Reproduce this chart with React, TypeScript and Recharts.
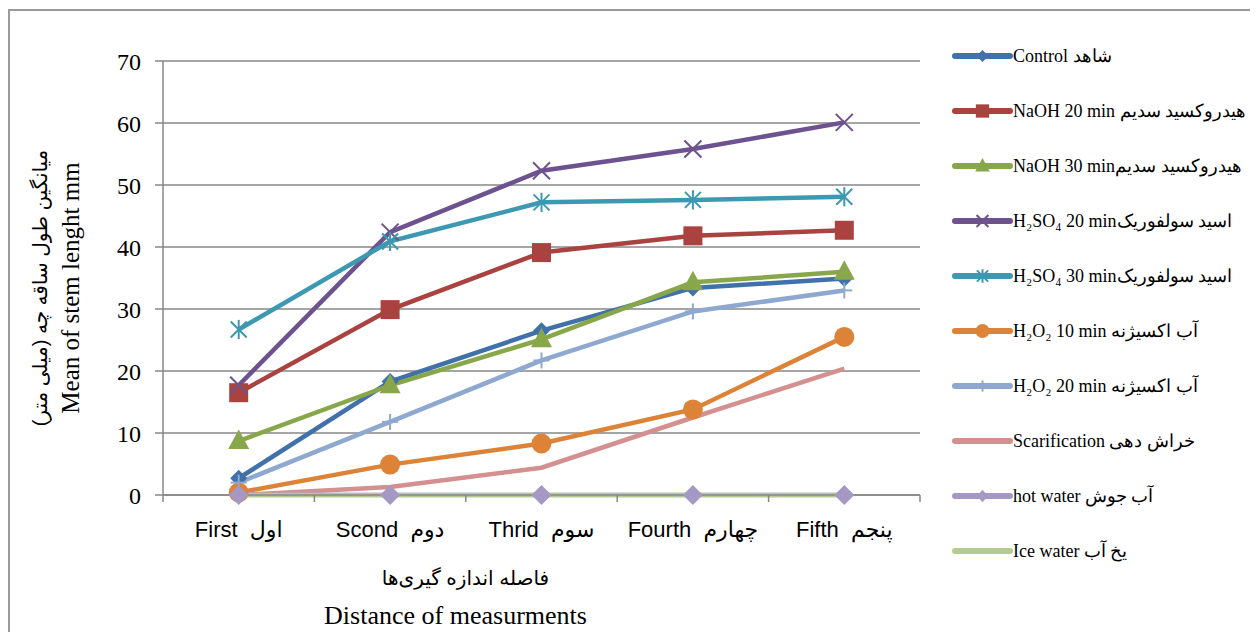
import { LineChart, Line, XAxis, YAxis, CartesianGrid } from "recharts";

const categories = ["First", "Scond", "Thrid", "Fourth", "Fifth"];
const categoriesFa = ["اول", "دوم", "سوم", "چهارم", "پنجم"];
const yTicks = [0, 10, 20, 30, 40, 50, 60, 70];

const control = [2.7, 18.3, 26.5, 33.4, 34.9];
const naoh20 = [16.5, 29.9, 39.1, 41.8, 42.7];
const naoh30 = [8.7, 17.7, 25.1, 34.3, 36.0];
const h2so420 = [17.7, 42.4, 52.3, 55.8, 60.1];
const h2so430 = [26.7, 40.9, 47.2, 47.6, 48.1];
const h2o210 = [0.4, 4.9, 8.3, 13.8, 25.5];
const h2o220 = [2.0, 11.8, 21.7, 29.6, 33.0];
const scarification = [0, 1.3, 4.4, 12.5, 20.4];
const hotWater = [0, 0, 0, 0, 0];
const iceWater = [0, 0, 0, 0, 0];

const CHART_W = 1250;
const CHART_H = 624;
const PLOT_W = 757;
const HALF_BAND = PLOT_W / 10;
const GRID = "#878787";
const SERIF = "'Liberation Serif', 'DejaVu Serif', serif";
const SANS = "'Liberation Sans', 'DejaVu Sans', sans-serif";

type Marker = "diamond" | "bigdiamond" | "square" | "triangle" | "x" | "star" | "circle" | "plus" | "none";

const series = [
  { key: "control", name: "Control شاهد", color: "#4171aa", values: control, marker: "diamond" as Marker },
  { key: "naoh20", name: "NaOH 20 min هیدروکسید سدیم", color: "#aa4240", values: naoh20, marker: "square" as Marker },
  { key: "naoh30", name: "NaOH 30 minهیدروکسید سدیم", color: "#88a74a", values: naoh30, marker: "triangle" as Marker },
  { key: "h2so420", name: "H₂SO₄ 20 minاسید سولفوریک", color: "#6d528f", values: h2so420, marker: "x" as Marker },
  { key: "h2so430", name: "H₂SO₄ 30 minاسید سولفوریک", color: "#3d98b1", values: h2so430, marker: "star" as Marker },
  { key: "h2o210", name: "H₂O₂ 10 min آب اکسیژنه", color: "#dd8337", values: h2o210, marker: "circle" as Marker },
  { key: "h2o220", name: "H₂O₂ 20 min آب اکسیژنه", color: "#8ea8cf", values: h2o220, marker: "plus" as Marker },
  { key: "scar", name: "Scarification خراش دهی", color: "#d48f8f", values: scarification, marker: "none" as Marker },
  { key: "hot", name: "hot water آب جوش", color: "#a698c4", values: hotWater, marker: "bigdiamond" as Marker },
  { key: "ice", name: "Ice water یخ آب", color: "#b4cc92", values: iceWater, marker: "none" as Marker },
];

const data = categories.map((cat, i) => {
  const row: any = { cat };
  series.forEach((s) => {
    row[s.key] = s.values[i];
  });
  return row;
});

function markerShape(marker: Marker, color: string, cx: number, cy: number, k = 1, key?: any) {
  switch (marker) {
    case "diamond":
    case "bigdiamond": {
      const r = (marker === "bigdiamond" ? 10 : 8.5) * k;
      return <path key={key} d={`M${cx},${cy - r}L${cx + r},${cy}L${cx},${cy + r}L${cx - r},${cy}Z`} fill={color} />;
    }
    case "square": {
      const r = 9.5 * k;
      return <rect key={key} x={cx - r} y={cy - r} width={2 * r} height={2 * r} fill={color} />;
    }
    case "triangle": {
      const r = 10.5 * k;
      return <path key={key} d={`M${cx},${cy - r * 1.1}L${cx + r},${cy + r * 0.75}L${cx - r},${cy + r * 0.75}Z`} fill={color} />;
    }
    case "x": {
      const r = 8.5 * k;
      return (
        <g key={key} stroke={color} strokeWidth={2}>
          <line x1={cx - r} y1={cy - r} x2={cx + r} y2={cy + r} />
          <line x1={cx - r} y1={cy + r} x2={cx + r} y2={cy - r} />
        </g>
      );
    }
    case "star": {
      const r = 8 * k;
      return (
        <g key={key} stroke={color} strokeWidth={2}>
          <line x1={cx - r} y1={cy - r} x2={cx + r} y2={cy + r} />
          <line x1={cx - r} y1={cy + r} x2={cx + r} y2={cy - r} />
          <line x1={cx} y1={cy - r * 1.2} x2={cx} y2={cy + r * 1.2} />
        </g>
      );
    }
    case "circle":
      return <circle key={key} cx={cx} cy={cy} r={10 * k} fill={color} />;
    case "plus": {
      const r = 8 * k;
      return (
        <g key={key} stroke={color} strokeWidth={2}>
          <line x1={cx} y1={cy - r} x2={cx} y2={cy + r} />
          <line x1={cx - r} y1={cy} x2={cx + r} y2={cy} />
        </g>
      );
    }
    default:
      return null;
  }
}

const makeDot = (marker: Marker, color: string) => (props: any) => {
  const { cx, cy, index } = props;
  if (cx == null || cy == null) return <g key={index} />;
  return markerShape(marker, color, cx, cy, 1, index) || <g key={index} />;
};

const CategoryTick = (props: any) => {
  const { x, y, payload, index } = props;
  const axisY = y - 26;
  return (
    <g>
      <line x1={x + HALF_BAND} y1={axisY} x2={x + HALF_BAND} y2={axisY + 7} stroke={GRID} strokeWidth={1.5} />
      {index === 0 && (
        <line x1={x - HALF_BAND} y1={axisY} x2={x - HALF_BAND} y2={axisY + 7} stroke={GRID} strokeWidth={1.5} />
      )}
      <text x={x} y={y} dy="0.71em" textAnchor="middle" fontFamily={SANS} fontSize={22} fill="#000">
        {`${payload.value}\u00A0\u00A0${categoriesFa[index]}`}
      </text>
    </g>
  );
};

const XTitle = (props: any) => {
  const { x, y, width } = props.viewBox;
  const cx = x + width / 2;
  return (
    <g>
      <text x={cx - 76} y={y + 83} textAnchor="middle" dominantBaseline="central" fontFamily={SANS} fontSize={20} fill="#000" style={{ direction: "rtl" }}>
        فاصله اندازه گیری‌ها
      </text>
      <text x={cx - 86} y={y + 120} textAnchor="middle" dominantBaseline="central" fontFamily={SERIF} fontSize={26} fill="#000">
        Distance of measurments
      </text>
    </g>
  );
};

const YTitle = (props: any) => {
  const { y, height } = props.viewBox;
  const cy = y + height / 2 + 10;
  return (
    <g>
      <text x={32} y={cy} transform={`rotate(-90, 32, ${cy})`} textAnchor="middle" dominantBaseline="central" fontFamily={SANS} fontSize={20} fill="#000" style={{ direction: "rtl" }}>
        میانگین طول ساقه چه (میلی متر)
      </text>
      <text x={62} y={cy} transform={`rotate(-90, 62, ${cy})`} textAnchor="middle" dominantBaseline="central" fontFamily={SERIF} fontSize={25} fill="#000">
        Mean of stem lenght mm
      </text>
    </g>
  );
};

function LegendBox() {
  return (
    <div style={{ position: "absolute", left: 944, top: 0 }}>
      {series.map((s, i) => (
        <div
          key={s.key}
          style={{ position: "absolute", top: 38 + 55 * i, left: 0, height: 20, display: "flex", alignItems: "center", whiteSpace: "nowrap" }}
        >
          <svg width={61} height={20} style={{ display: "block" }}>
            <line x1={3} y1={10} x2={58} y2={10} stroke={s.color} strokeWidth={6} strokeLinecap="round" />
            {markerShape(s.marker === "bigdiamond" ? "diamond" : s.marker, s.color, 30.5, 10, 0.7)}
          </svg>
          <span style={{ fontFamily: SERIF, fontSize: 18, color: "#000", lineHeight: "20px" }}>{s.name}</span>
        </div>
      ))}
    </div>
  );
}

export default function App() {
  return (
    <div style={{ position: "relative", width: CHART_W, height: CHART_H }}>
      <div
        style={{
          position: "absolute",
          left: 0,
          top: 1,
          width: CHART_W - 2,
          height: CHART_H - 3,
          borderLeft: "2px solid #9a9a9a",
          borderTop: "2px solid #9a9a9a",
        }}
      />
      <LineChart width={CHART_W} height={CHART_H} data={data} margin={{ top: 53, right: 338, bottom: 0, left: 0 }}>
        <CartesianGrid vertical={false} stroke={GRID} strokeWidth={1.5} yAxisId="left" />
        <XAxis
          dataKey="cat"
          xAxisId="main"
          height={137}
          padding={{ left: HALF_BAND, right: HALF_BAND }}
          axisLine={{ stroke: GRID, strokeWidth: 1.5 }}
          tickLine={false}
          tickSize={7}
          tickMargin={19}
          interval={0}
          tick={<CategoryTick />}
          label={<XTitle />}
        />
        <XAxis
          dataKey="cat"
          xAxisId="top"
          orientation="top"
          height={0}
          padding={{ left: HALF_BAND, right: HALF_BAND }}
          axisLine={{ stroke: "#000", strokeWidth: 1.5 }}
          tick={false}
          tickLine={false}
        />
        <YAxis
          yAxisId="left"
          width={155}
          domain={[0, 70]}
          ticks={yTicks}
          interval={0}
          axisLine={{ stroke: GRID, strokeWidth: 1.5 }}
          tickLine={{ stroke: GRID, strokeWidth: 1.5 }}
          tickSize={8}
          tickMargin={14}
          tick={{ fontFamily: SERIF, fontSize: 24, fill: "#000" }}
          label={<YTitle />}
        />
        <YAxis
          yAxisId="right"
          orientation="right"
          width={0}
          domain={[0, 70]}
          axisLine={{ stroke: "#000", strokeWidth: 1.5 }}
          tick={false}
          tickLine={false}
        />
        {series.map((s) => (
          <Line
            key={s.key}
            xAxisId="main"
            yAxisId="left"
            type="linear"
            dataKey={s.key}
            name={s.name}
            stroke={s.color}
            strokeWidth={4.5}
            dot={s.marker === "none" ? false : makeDot(s.marker, s.color)}
            activeDot={false}
            isAnimationActive={false}
          />
        ))}
      </LineChart>
      <LegendBox />
    </div>
  );
}
